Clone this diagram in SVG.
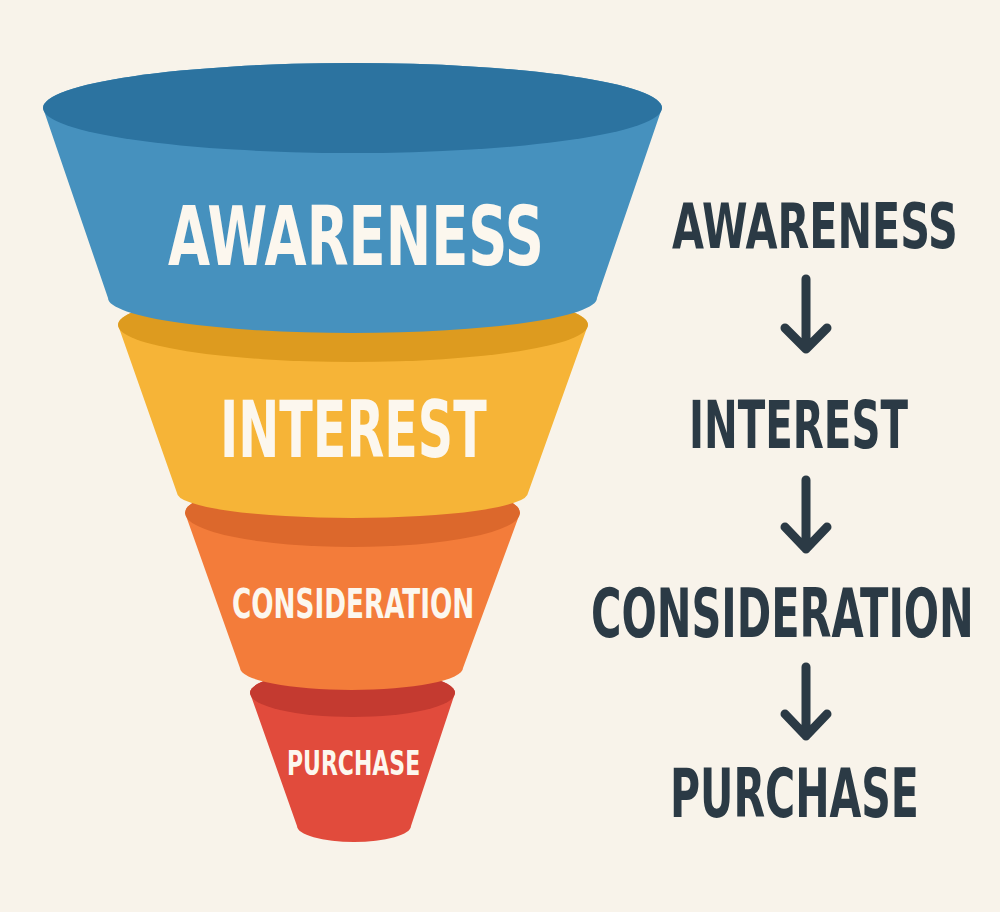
<svg xmlns="http://www.w3.org/2000/svg" width="1000" height="912" viewBox="0 0 1000 912">
  <style>
    .lbl { font-family: "DejaVu Sans Condensed", "DejaVu Sans", "Liberation Sans", sans-serif; font-weight: bold; font-stretch: condensed; }
    .in { fill: #fcf7ee; }
    .out { fill: #2b3a45; }
    .arrow { fill: none; stroke: #2b3a45; stroke-width: 9; stroke-linecap: round; stroke-linejoin: round; }
  </style>
  <rect width="1000" height="912" fill="#f8f3ea"/>

  <g id="purchase-layer">
    <path d="M250,693 A102.5,24 0 0 1 455,693 L411,826 A57,16 0 0 1 297,826 Z" fill="#e14b3c"/>
    <ellipse cx="352.5" cy="693" rx="102.5" ry="24" fill="#c43a30"/>
    <text class="lbl in" transform="translate(287,775) scale(0.72,1)" x="0" y="0" font-size="34" textLength="185" lengthAdjust="spacingAndGlyphs">PURCHASE</text>
  </g>

  <g id="consideration-layer">
    <path d="M185,513 A167.5,34 0 0 1 520,513 L463,668 A111.5,22 0 0 1 240,668 Z" fill="#f37c3a"/>
    <ellipse cx="352.5" cy="513" rx="167.5" ry="34" fill="#dc682c"/>
    <text class="lbl in" transform="translate(232,618) scale(0.7,1)" x="0" y="0" font-size="41" textLength="346" lengthAdjust="spacingAndGlyphs">CONSIDERATION</text>
  </g>

  <g id="interest-layer">
    <path d="M118,325 A235,37 0 0 1 588,325 L528,493 A175.5,25 0 0 1 177,493 Z" fill="#f6b437"/>
    <ellipse cx="353" cy="325" rx="235" ry="37" fill="#dd9b1f"/>
    <text class="lbl in" transform="translate(220,457) scale(0.7,1)" x="0" y="0" font-size="78" textLength="381" lengthAdjust="spacingAndGlyphs">INTEREST</text>
  </g>

  <g id="awareness-layer">
    <path d="M43,108 A309.5,45 0 0 1 662,108 L597,298 A244.5,35 0 0 1 108,298 Z" fill="#4691be"/>
    <ellipse cx="352.5" cy="108" rx="309.5" ry="45" fill="#2c73a0"/>
    <text class="lbl in" transform="translate(168,265) scale(0.73,1)" x="0" y="0" font-size="82" textLength="515" lengthAdjust="spacingAndGlyphs">AWARENESS</text>
  </g>

  <g id="step-awareness">
    <text class="lbl out" transform="translate(672,248) scale(0.72,1)" x="0" y="0" font-size="63" textLength="397" lengthAdjust="spacingAndGlyphs">AWARENESS</text>
  </g>
  <g id="step-interest">
    <text class="lbl out" transform="translate(689,448) scale(0.68,1)" x="0" y="0" font-size="66" textLength="322" lengthAdjust="spacingAndGlyphs">INTEREST</text>
  </g>
  <g id="step-consideration">
    <text class="lbl out" transform="translate(591,637) scale(0.68,1)" x="0" y="0" font-size="67" textLength="563" lengthAdjust="spacingAndGlyphs">CONSIDERATION</text>
  </g>
  <g id="step-purchase">
    <text class="lbl out" transform="translate(670,817) scale(0.68,1)" x="0" y="0" font-size="67" textLength="366" lengthAdjust="spacingAndGlyphs">PURCHASE</text>
  </g>

  <g id="connectors">
    <path class="arrow" d="M806,279 V349 M785,328 L806,349 L827,328"/>
    <path class="arrow" d="M806,480 V549 M785,527 L806,549 L827,527"/>
    <path class="arrow" d="M806,667 V736 M785,714 L806,736 L827,714"/>
  </g>
</svg>
